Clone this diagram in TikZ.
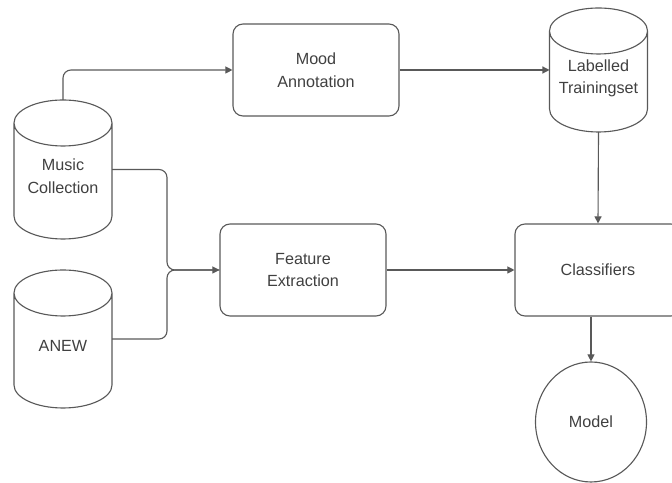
\documentclass[tikz,border=0pt]{standalone}
\usepackage{fontspec}
\setmainfont{Liberation Sans}
\usetikzlibrary{arrows.meta,shapes.geometric}

\tikzset{
    line/.style={draw=black!65, line width=0.8pt},
    flow/.style={line, rounded corners=0.2cm, -{Triangle[length=5pt,width=5pt]}},
    proc/.style={line, rounded corners=0.25cm, minimum width=4.15cm, minimum height=2.3cm,
        align=center, text=black!75, font=\fontsize{11.5}{16}\selectfont},
    store/.style={inner sep=0pt, outer sep=0pt, minimum width=2.45cm,
        text=black!75, font=\fontsize{11.5}{16}\selectfont},
    result/.style={line, ellipse, minimum width=2.775cm, minimum height=3.0cm,
        text=black!75, font=\fontsize{11.5}{16}\selectfont}
}

% texto das bases, um pouco abaixo do centro
\newcommand{\dbtext}[1]{\raisebox{-0.2cm}[\height][\depth]{\begin{tabular}{@{}c@{}}#1\end{tabular}}}

% contorno de cilindro em volta de um no
\newcommand{\drum}[1]{%
    \draw[line] ([yshift=-0.575cm]#1.north west) -- ([yshift=0.575cm]#1.south west)
        arc[start angle=180, end angle=360, x radius=1.225cm, y radius=0.575cm]
        -- ([yshift=-0.575cm]#1.north east)
        arc[start angle=0, end angle=180, x radius=1.225cm, y radius=0.575cm]
        arc[start angle=180, end angle=360, x radius=1.225cm, y radius=0.575cm];
}

\begin{document}
\begin{tikzpicture}

    \useasboundingbox (0,0) rectangle (16.8,12.075);
    \clip (0,0) rectangle (16.8,12.075);

    % bases de dados
    \node (music)    [store, minimum height=3.475cm] at (1.575, 7.8375) {\dbtext{Music\\Collection}};
    \node (anew)     [store, minimum height=3.45cm]  at (1.575, 3.6)    {\dbtext{ANEW}};
    \node (labelled) [store, minimum height=3.1cm]   at (14.9625, 10.325) {\dbtext{Labelled\\Trainingset}};

    \drum{music}
    \drum{anew}
    \drum{labelled}

    % processos
    \node (mood)        [proc] at (7.9,   10.325) {Mood\\Annotation};
    \node (feature)     [proc] at (7.575, 5.325)  {Feature\\Extraction};
    \node (classifiers) [proc] at (14.95, 5.325)  {Classifiers};

    \node (model) [result] at (14.775, 1.525) {Model};

    \coordinate (brace) at (4.175, 5.325);

    \draw [flow] (music.north) |- (mood.west);
    \draw [flow] (mood.east) -- (labelled.west);
    \draw [flow] (labelled.south) -- (classifiers.north);
    \draw [flow] (music.east) -| (brace) -- (feature.west);
    \draw [line, rounded corners=0.2cm] (anew.east) -| (brace) -- (feature.west);
    \draw [flow] (feature.east) -- (classifiers.west);
    \draw [flow] (model.north |- classifiers.south) -- (model.north);

\end{tikzpicture}
\end{document}
